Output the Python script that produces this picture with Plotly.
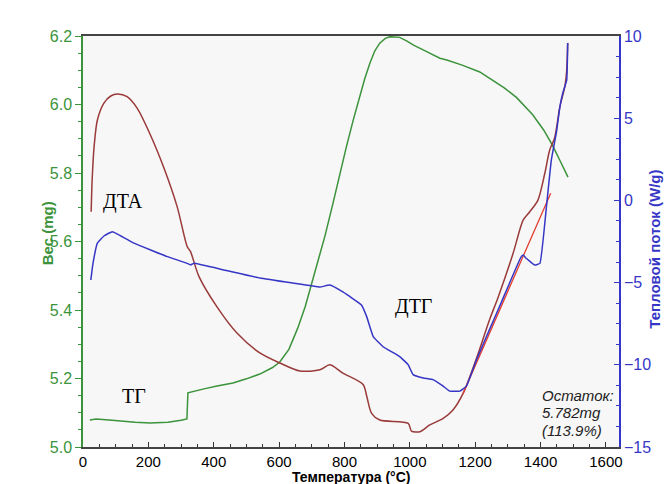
import plotly.graph_objects as go

# TG (weight, mg) – left axis
tg_t = [21, 40, 80, 113, 160, 205, 260, 300, 318, 321, 340, 367, 410, 459, 500, 541, 580, 602, 630, 657,
        680, 703, 715, 740, 765, 785, 806, 827, 847, 862, 878, 893, 908, 925, 939, 969, 990, 1010,
        1050, 1092, 1113, 1160, 1214, 1254, 1290, 1327, 1376, 1410, 1437, 1460, 1484]
tg_w = [5.079, 5.082, 5.079, 5.076, 5.072, 5.070, 5.072, 5.078, 5.082, 5.158, 5.163, 5.169, 5.178,
        5.187, 5.199, 5.213, 5.232, 5.248, 5.285, 5.347, 5.41, 5.488, 5.53, 5.615, 5.712, 5.795,
        5.877, 5.955, 6.023, 6.075, 6.121, 6.157, 6.179, 6.193, 6.198, 6.196, 6.186, 6.174, 6.155,
        6.135, 6.13, 6.115, 6.095, 6.07, 6.048, 6.02, 5.97, 5.925, 5.88, 5.835, 5.788]

# DTA (heat flow, W/g) – right axis
dta_t = [25, 28, 34, 44, 64, 85, 105, 135, 166, 207, 248, 288, 319, 329, 355, 410, 471, 541, 602, 664,
         725, 755, 795, 857, 868, 883, 908, 995, 1005, 1031, 1061, 1102, 1132, 1163, 1204, 1245, 1270,
         1316, 1347, 1367, 1392, 1413, 1428, 1443, 1459, 1474, 1480, 1483]
dta_v = [-0.69, 1.24, 3.27, 4.89, 5.92, 6.35, 6.47, 6.31, 5.6, 3.95, 1.95, -0.38, -2.82, -3.12, -4.64,
         -6.48, -8.07, -9.28, -9.89, -10.38, -10.3, -10.0, -10.5, -11.2, -11.9, -12.95, -13.36, -13.56,
         -14.03, -14.07, -13.66, -13.26, -12.75, -11.74, -9.6, -7.2, -5.9, -3.22, -1.19, -0.69, 0.02,
         1.65, 3.07, 3.8, 5.68, 6.9, 7.93, 9.57]

# DTG – right axis
dtg_t = [24, 30, 44, 65, 90, 156, 258, 319, 329, 339, 431, 541, 642, 725, 755, 795, 852, 868, 888, 918,
         969, 995, 1010, 1041, 1071, 1102, 1122, 1153, 1173, 1204, 1245, 1280, 1340, 1347, 1355, 1382,
         1398, 1418, 1433, 1449, 1459, 1468, 1480, 1483]
dtg_v = [-4.84, -3.9, -2.6, -2.15, -1.9, -2.6, -3.42, -3.83, -3.93, -3.83, -4.23, -4.72, -5.03, -5.27,
         -5.15, -5.57, -6.36, -7.07, -8.29, -8.9, -9.5, -10.0, -10.6, -10.8, -10.9, -11.3, -11.6, -11.6,
         -11.3, -9.7, -7.8, -6.2, -3.45, -3.32, -3.5, -3.93, -3.83, -0.38, 2.46, 4.2, 5.68, 6.53, 7.32,
         9.57]

# Baseline (red) – right axis
base_t = [1163, 1347, 1431]
base_v = [-11.74, -3.32, 0.43]

x_ticks = [0, 200, 400, 600, 800, 1000, 1200, 1400, 1600]
y_ticks = [5.0, 5.2, 5.4, 5.6, 5.8, 6.0, 6.2]
y2_ticks = [-15, -10, -5, 0, 5, 10]

GREEN = "#3b933b"
BLUE = "#3636c6"
BROWN = "#9a3a3a"
RED = "#e43a2a"
FONT = "Liberation Sans"
SERIF = "Liberation Serif"

fig = go.Figure()
fig.add_trace(go.Scatter(x=dta_t, y=dta_v, yaxis="y2", mode="lines",
                         line=dict(color=BROWN, width=1.5, shape="spline", smoothing=0.8)))
fig.add_trace(go.Scatter(x=base_t, y=base_v, yaxis="y2", mode="lines",
                         line=dict(color=RED, width=1.3)))
fig.add_trace(go.Scatter(x=dtg_t, y=dtg_v, yaxis="y2", mode="lines",
                         line=dict(color=BLUE, width=1.5, shape="spline", smoothing=0.3)))
fig.add_trace(go.Scatter(x=tg_t, y=tg_w, mode="lines",
                         line=dict(color=GREEN, width=1.5)))

fig.update_layout(
    width=669, height=484,
    margin=dict(l=83, r=50, t=36, b=37),
    paper_bgcolor="white", plot_bgcolor="#f7f7f7",
    showlegend=False,
    font=dict(family=FONT, size=16, color="black"),
    xaxis=dict(range=[0, 1640], tickvals=x_ticks, showgrid=False, zeroline=False,
               showline=True, linecolor="#444444", linewidth=1.5, mirror=True,
               ticks="inside", ticklen=5, tickcolor="#333333",
               minor=dict(dtick=50, ticks="inside", ticklen=3, tickcolor="#333333"),
               tickfont=dict(size=15, color="black")),
    yaxis=dict(range=[5.0, 6.2], tickvals=y_ticks, ticktext=[f"{v:.1f}" for v in y_ticks],
               showgrid=False, zeroline=False, showline=True, linecolor=GREEN, linewidth=1.5,
               ticks="outside", ticklen=6, tickcolor=GREEN,
               minor=dict(dtick=0.05, ticks="outside", ticklen=3, tickcolor=GREEN),
               tickfont=dict(size=16, color=GREEN)),
    yaxis2=dict(range=[-15, 10], tickvals=y2_ticks, overlaying="y", side="right",
                showgrid=False, zeroline=False, showline=True, linecolor=BLUE, linewidth=1.5,
                ticks="inside", ticklen=5, tickcolor=BLUE,
                minor=dict(dtick=1.25, ticks="inside", ticklen=3, tickcolor=BLUE),
                tickfont=dict(size=16, color=BLUE)),
)

annots = [
    dict(text="<b>Вес (mg)</b>", x=0, xref="paper", xshift=-36, xanchor="center",
         y=0.52, yref="paper", yanchor="middle", textangle=-90,
         font=dict(size=15, color=GREEN, family=FONT), showarrow=False),
    dict(text="<b>Тепловой поток (W/g)</b>", x=1, xref="paper", xshift=36, xanchor="center",
         y=0.48, yref="paper", yanchor="middle", textangle=-90,
         font=dict(size=15, color=BLUE, family=FONT), showarrow=False),
    dict(text="<b>Температура (°C)</b>", x=0.5, xref="paper", xanchor="center",
         y=0, yref="paper", yanchor="middle", yshift=-30,
         font=dict(size=14, color="black", family=FONT), showarrow=False),
    dict(text="ДТА", x=123, y=5.716, font=dict(size=20, color="black", family=SERIF),
         showarrow=False),
    dict(text="ТГ", x=156, y=5.15, font=dict(size=20, color="black", family=SERIF),
         showarrow=False),
    dict(text="ДТГ", x=1012, y=5.41, font=dict(size=20, color="black", family=SERIF),
         showarrow=False),
]
residue_lines = ["Остаток:", "5.782mg", "(113.9%)"]
residue_y = [5.15, 5.10, 5.049]
for txt, yy in zip(residue_lines, residue_y):
    annots.append(dict(text=f"<i>{txt}</i>", x=1398, y=yy, xanchor="left", yanchor="middle",
                       align="left", font=dict(size=15, color="#222222", family=FONT),
                       showarrow=False))
fig.update_layout(annotations=annots)

fig.write_html("out.html")
